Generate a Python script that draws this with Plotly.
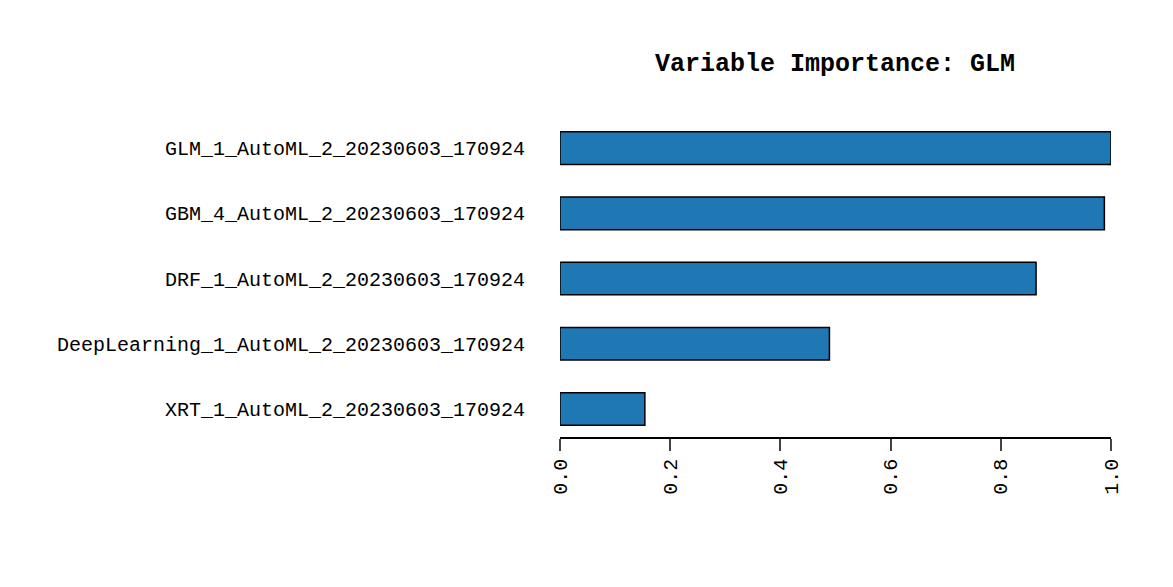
import plotly.graph_objects as go

models = ["XRT_1_AutoML_2_20230603_170924",
          "DeepLearning_1_AutoML_2_20230603_170924",
          "DRF_1_AutoML_2_20230603_170924",
          "GBM_4_AutoML_2_20230603_170924",
          "GLM_1_AutoML_2_20230603_170924"]
importance = [0.154, 0.489, 0.864, 0.988, 1.0]

font = "Liberation Mono, DejaVu Sans Mono, monospace"

fig = go.Figure(go.Bar(x=importance, y=models, orientation="h", width=0.5,
                       marker=dict(color="#1f78b4", line=dict(color="black", width=1.5))))
fig.update_layout(
    width=1173, height=587, autosize=False,
    plot_bgcolor="white", paper_bgcolor="white",
    margin=dict(l=552, r=70, t=101, b=158),
    title=dict(text="<b>Variable Importance: GLM</b>", x=827/1173, xanchor="center",
               y=1-54/587, yanchor="middle", font=dict(family=font, size=25, color="black")),
    font=dict(family=font, size=20, color="black"),
    showlegend=False,
)
fig.update_xaxes(range=[0, 1.0], tickvals=[0, 0.2, 0.4, 0.6, 0.8, 1.0],
                 ticktext=["0.0", "0.2", "0.4", "0.6", "0.8", "1.0"],
                 tickangle=-90, ticks="outside", ticklen=12, tickwidth=1.5,
                 showline=True, linecolor="black", linewidth=1.5,
                 showgrid=False, zeroline=False)
fig.update_yaxes(range=[-0.43, 4.6], showgrid=False, zeroline=False, ticks="",
                 ticklabelstandoff=34)
fig.write_html("out.html")
